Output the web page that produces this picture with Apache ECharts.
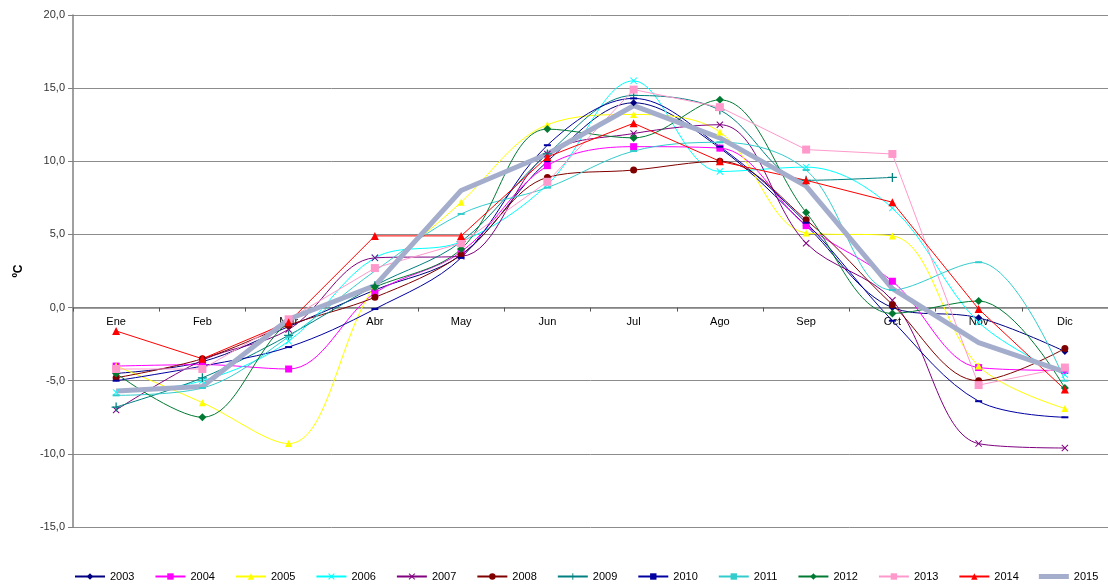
<!DOCTYPE html>
<html>
<head>
<meta charset="utf-8">
<script src="https://cdn.jsdelivr.net/npm/echarts@6/dist/echarts.min.js"></script>
<style>html,body{margin:0;padding:0;background:#fff}#c{width:1108px;height:585px}</style>
</head>
<body>
<div id="c"></div>
<script>
const months = ['Ene','Feb','Mar','Abr','May','Jun','Jul','Ago','Sep','Oct','Nov','Dic'];
const y2003 = [-4.5,-3.7,-1.3,1.2,3.6,10.0,14.0,10.9,5.6,0.0,-0.7,-3.0];
const y2004 = [-4.0,-3.9,-4.2,1.0,3.8,9.7,11.0,10.9,5.6,1.8,-4.1,-4.3];
const y2005 = [-4.0,-6.5,-9.3,1.5,7.2,12.5,13.2,12.0,5.1,4.9,-4.0,-6.9];
const y2006 = [-5.8,-5.0,-2.3,3.4,4.5,8.4,15.5,9.3,9.6,6.8,-1.0,-4.6];
const y2007 = [-7.0,-3.6,-1.5,3.4,3.5,10.5,11.9,12.5,4.4,0.5,-9.3,-9.6];
const y2008 = [-4.8,-3.5,-1.2,0.7,3.6,8.9,9.4,10.0,6.0,0.2,-5.0,-2.8];
const y2009 = [-6.8,-4.8,-1.9,1.5,4.5,10.5,14.5,13.5,8.7,8.9,null,null];
const y2010 = [-5.0,-4.0,-2.7,-0.1,3.4,11.1,14.3,11.0,5.8,-0.9,-6.4,-7.5];
const y2011 = [-6.0,-5.5,-2.0,2.5,6.4,8.2,10.7,11.3,9.4,1.2,3.1,-5.0];
const y2012 = [-4.5,-7.5,-1.0,1.4,4.0,12.2,11.6,14.2,6.5,-0.4,0.45,-5.5];
const y2013 = [-4.2,-4.2,-0.8,2.7,4.4,8.6,14.9,13.7,10.8,10.5,-5.3,-4.1];
const y2014 = [-1.6,-3.5,-1.0,4.9,4.9,10.3,12.6,10.0,8.7,7.2,-0.1,-5.6];
const y2015 = [-5.7,-5.4,-0.8,1.5,8.0,10.5,13.8,11.6,8.3,1.3,-2.4,-4.4];

const X = 'path://M0,1L1,0L5,4L9,0L10,1L6,5L10,9L9,10L5,6L1,10L0,9L4,5Z';
const PLUS = 'path://M4.3,0H5.7V4.3H10V5.7H5.7V10H4.3V5.7H0V4.3H4.3Z';

function s(name, data, color, symbol, size, smooth, width) {
  return {
    name: name, type: 'line', data: data, smooth: smooth ? 0.35 : false,
    symbol: symbol, symbolSize: size, showSymbol: symbol !== 'none',
    lineStyle: {color: color, width: width || 1},
    itemStyle: {color: color},
    connectNulls: false
  };
}

const series = [
  s('2003', y2003, '#000080', 'diamond', 7, true),
  s('2004', y2004, '#FF00FF', 'rect', 7, true),
  s('2005', y2005, '#FFFF00', 'triangle', 7, true),
  s('2006', y2006, '#00FFFF', X, 7, true),
  s('2007', y2007, '#800080', X, 7, true),
  s('2008', y2008, '#800000', 'circle', 7, true),
  s('2009', y2009, '#008080', PLUS, 9, true),
  s('2010', y2010, '#0000A0', 'rect', [7,2], true),
  s('2011', y2011, '#33CCCC', 'rect', [7,2], true),
  s('2012', y2012, '#007A33', 'diamond', 8, true),
  s('2013', y2013, '#FF99CC', 'rect', 8, false),
  s('2014', y2014, '#FF0000', 'triangle', 8, false),
  s('2015', y2015, '#A4AECC', 'none', 0, false, 5)
];

const gridTop = 15, gridBottom = 58, H = 585;
const gridH = H - gridTop - gridBottom;
const yMin = -15, yMax = 20;
const zeroOffset = -gridH * (0 - yMin) / (yMax - yMin);

const legendData = series.map(x => x.name === '2015'
  ? {name: x.name, icon: 'path://M0,0H30V5H0Z'}
  : {name: x.name});

const chart = echarts.init(document.getElementById('c'), null, {renderer: 'canvas'});
chart.setOption({
  animation: false,
  backgroundColor: '#fff',
  textStyle: {fontFamily: 'Liberation Sans, Arial, sans-serif'},
  grid: {left: 73, width: 1037, top: gridTop, bottom: gridBottom, containLabel: false},
  legend: {
    bottom: 3, left: 74, width: 1034, itemWidth: 30, itemHeight: 8, itemGap: 20,
    padding: 0,
    textStyle: {fontSize: 11, color: '#000', fontFamily: 'Liberation Sans, Arial, sans-serif'},
    data: legendData
  },
  xAxis: {
    type: 'category', data: months, boundaryGap: true,
    offset: zeroOffset,
    axisLine: {onZero: false, lineStyle: {color: '#808080', width: 1.5}},
    axisTick: {show: true, length: 4, inside: false, lineStyle: {color: '#555'}},
    axisLabel: {fontSize: 11, color: '#000', margin: 9},
    splitLine: {show: false}
  },
  yAxis: {
    type: 'value', min: yMin, max: yMax, interval: 5,
    name: 'ºC', nameLocation: 'middle', nameRotate: 90, nameGap: 48,
    nameTextStyle: {fontSize: 12, color: '#000', fontWeight: 'bold'},
    axisLine: {show: true, lineStyle: {color: '#808080', width: 1.5}},
    axisTick: {show: true, length: 5, lineStyle: {color: '#808080'}},
    axisLabel: {fontSize: 11, color: '#333', margin: 8,
      formatter: v => v.toFixed(1).replace('.', ',')},
    splitLine: {show: true, lineStyle: {color: '#8c8c8c', width: 1}}
  },
  series: series
});
</script>
</body>
</html>
